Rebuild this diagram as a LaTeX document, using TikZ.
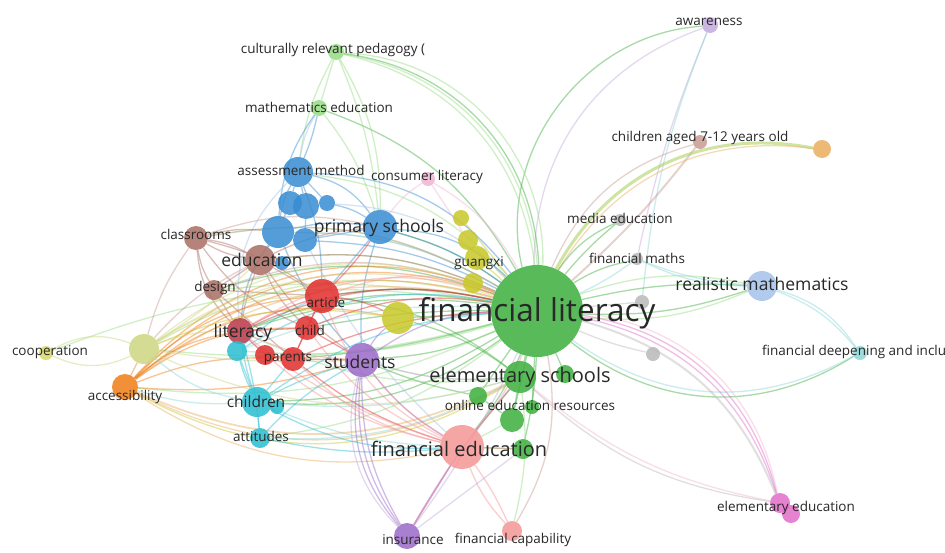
\documentclass[tikz,border=0pt]{standalone}
\usepackage{fontspec}
\setmainfont{Open Sans}
\usetikzlibrary{positioning,backgrounds}
\definecolor{cGreen}{RGB}{60,175,60}
\definecolor{cLGrn}{RGB}{150,220,130}
\definecolor{cBlue}{RGB}{55,140,210}
\definecolor{cLBlue}{RGB}{165,195,235}
\definecolor{cRed}{RGB}{225,45,45}
\definecolor{cDRed}{RGB}{185,55,70}
\definecolor{cSalm}{RGB}{245,150,150}
\definecolor{cPurp}{RGB}{155,105,200}
\definecolor{cLav}{RGB}{195,170,220}
\definecolor{cBrown}{RGB}{170,110,100}
\definecolor{cLBrn}{RGB}{200,155,145}
\definecolor{cPink}{RGB}{225,110,200}
\definecolor{cLPink}{RGB}{240,180,210}
\definecolor{cGrey}{RGB}{185,185,185}
\definecolor{cOlive}{RGB}{200,200,40}
\definecolor{cLOlive}{RGB}{205,215,130}
\definecolor{cYGrn}{RGB}{175,210,100}
\definecolor{cCyan}{RGB}{40,190,210}
\definecolor{cLCyan}{RGB}{140,215,215}
\definecolor{cOrng}{RGB}{240,125,20}
\definecolor{cLOrng}{RGB}{235,175,95}
\definecolor{lblgrey}{RGB}{40,40,40}
\tikzset{bub/.style={circle, inner sep=0pt, minimum size=2*#1, fill opacity=.85},
    term/.style={text=lblgrey, inner sep=0pt, font=\fontsize{13.5}{15}\selectfont},
    termC/.style={term, font=\fontsize{15.5}{17}\selectfont},
    termM/.style={term, font=\fontsize{17.5}{19}\selectfont},
    termL/.style={term, font=\fontsize{20}{22}\selectfont},
    termXL/.style={term, font=\fontsize{31.5}{33}\selectfont},
    link/.style={line width=1.3pt, draw opacity=.45}}

\begin{document}
\begin{tikzpicture}[x=1pt, y=-1pt]
    \useasboundingbox (0,0) rectangle (945,552);

    % green cluster
    \node[bub=46, fill=cGreen] (fl) at (537,311) {};
    \node[bub=16, fill=cGreen] (es1) at (520,377) {};
    \node[bub=9, fill=cGreen] (es2) at (565,374) {};
    \node[bub=9, fill=cGreen] (g3) at (478,396) {};
    \node[bub=12, fill=cGreen] (g4) at (512,420) {};
    \node[bub=7, fill=cGreen] (g5) at (532,407) {};
    \node[bub=10, fill=cGreen] (g6) at (523,449) {};
    \node[bub=8, fill=cLGrn] (cult) at (336,52) {};
    \node[bub=8, fill=cLGrn] (mathed) at (319,108) {};

    % right side
    \node[bub=8, fill=cLav] (aware) at (710,25) {};
    \node[bub=7, fill=cLBrn] (aged) at (700,142) {};
    \node[bub=9, fill=cLOrng] (orng) at (822,149) {};
    \node[bub=6, fill=cGrey] (media) at (620,220) {};
    \node[bub=6, fill=cGrey] (fmath) at (637,259) {};
    \node[bub=15, fill=cLBlue] (realm) at (762,286) {};
    \node[bub=7, fill=cGrey] (grey1) at (642,302) {};
    \node[bub=7, fill=cGrey] (grey2) at (653,354) {};
    \node[bub=7, fill=cLCyan] (fdeep) at (860,353) {};
    \node[bub=10, fill=cPink] (eled) at (780,503) {};
    \node[bub=9, fill=cPink] (eled2) at (791,514) {};

    % blue cluster
    \node[bub=15, fill=cBlue] (am1) at (298,172) {};
    \node[bub=12, fill=cBlue] (b2) at (290,203) {};
    \node[bub=13, fill=cBlue] (b3) at (306,206) {};
    \node[bub=8, fill=cBlue] (b4) at (327,203) {};
    \node[bub=16, fill=cBlue] (b5) at (278,232) {};
    \node[bub=12, fill=cBlue] (b6) at (305,240) {};
    \node[bub=7, fill=cBlue] (b7) at (282,263) {};
    \node[bub=17, fill=cBlue] (ps) at (380,227) {};
    \node[bub=7, fill=cLPink] (cons) at (428,179) {};

    % yellow cluster
    \node[bub=16, fill=cOlive] (ybig) at (398,318) {};
    \node[bub=8, fill=cOlive] (y1) at (461,218) {};
    \node[bub=10, fill=cOlive] (y2) at (468,240) {};
    \node[bub=12, fill=cOlive] (y3) at (477,258) {};
    \node[bub=10, fill=cOlive] (y4) at (473,283) {};

    % left side
    \node[bub=7, fill=cOlive!70!white] (coop) at (46,353) {};
    \node[bub=15, fill=cLOlive] (lyel) at (144,349) {};
    \node[bub=13, fill=cOrng] (acc) at (125,387) {};
    \node[bub=12, fill=cBrown] (classr) at (196,238) {};
    \node[bub=15, fill=cBrown] (edu) at (260,260) {};
    \node[bub=10, fill=cBrown] (design) at (214,290) {};
    \node[bub=13, fill=cDRed] (lit) at (240,331) {};
    \node[bub=10, fill=cCyan] (cyan1) at (237,351) {};
    \node[bub=17, fill=cRed] (article) at (322,296) {};
    \node[bub=12, fill=cRed] (child) at (307,328) {};
    \node[bub=12, fill=cRed] (parents) at (293,359) {};
    \node[bub=10, fill=cRed] (p2) at (265,355) {};
    \node[bub=17, fill=cPurp] (students) at (362,360) {};
    \node[bub=15, fill=cCyan] (children) at (257,402) {};
    \node[bub=7, fill=cCyan] (c2) at (277,407) {};
    \node[bub=10, fill=cCyan] (attitudes) at (260,438) {};

    % bottom
    \node[bub=22, fill=cSalm] (fe) at (462,447) {};
    \node[bub=13, fill=cPurp] (ins) at (407,536) {};
    \node[bub=10, fill=cSalm] (fcap) at (512,531) {};

    % labels
    \node[termXL] (fl-t) at (537,313) {financial literacy};
    \node[termL] (es-t) at (520,377) {elementary schools};
    \node[term] (oer-t) at (530,405) {online education resources};
    \node[termL] (fe-t) at (459,449) {financial education};
    \node[term] (ins-t) at (413,540) {insurance};
    \node[term] (fcap-t) at (513,540) {financial capability};
    \node[termM] (students-t) at (360,362) {students};
    \node[termC] (children-t) at (256,402) {children};
    \node[term] (attitudes-t) at (261,436) {attitudes};
    \node[term] (parents-t) at (288,359) {parents};
    \node[term] (child-t) at (310,330) {child};
    \node[term] (article-t) at (326,302) {article};
    \node[termM] (lit-t) at (243,333) {literacy};
    \node[term] (design-t) at (215,288) {design};
    \node[termM] (edu-t) at (262,260) {education};
    \node[term] (classr-t) at (196,234) {classrooms};
    \node[term] (acc-t) at (125,397) {accessibility};
    \node[term] (coop-t) at (50,352) {cooperation};
    \node[term] (am-t) at (301,170) {assessment method};
    \node[termM] (ps-t) at (379,228) {primary schools};
    \node[term] (cons-t) at (427,177) {consumer literacy};
    \node[term] (mathed-t) at (319,107) {mathematics education};
    \node[term] (cult-t) at (333,50) {culturally relevant pedagogy (};
    \node[term] (gx-t) at (479,263) {guangxi};
    \node[term] (aware-t) at (709,22) {awareness};
    \node[term] (aged-t) at (700,138) {children aged 7-12 years old};
    \node[term] (media-t) at (620,218) {media education};
    \node[term] (fmath-t) at (637,258) {financial maths};
    \node[termM] (realm-t) at (762,284) {realistic mathematics};
    \node[term, anchor=west] (fdeep-t) at (762,352) {financial deepening and inclu};
    \node[term] (eled-t) at (786,508) {elementary education};

    \begin{scope}[on background layer]
    \fill[white] (0,0) rectangle (945,552);
    \path[link]
    % top right
    (fl) edge[cGreen, bend left=50] (aware)
    (fl) edge[cLav, bend left=35] (aware)
    (aware) edge[cLav, bend right=5] (fmath)
    (aware) edge[cLCyan, bend right=8] (grey1)
    (fl) edge[cGreen, bend right=40] (cult)
    (fl) edge[cLGrn, bend right=35] (cult)
    (fl) edge[cLGrn, bend right=45] (cult)
    (fl) edge[cLGrn, bend right=38] (cult)
    (fl) edge[cLBrn, bend left=25] (aged)
    (aged) edge[cLBrn, line width=2pt, bend left=5] (fl)
    (fl) edge[cYGrn, line width=3pt, draw opacity=.6, bend left=36] (orng)
    (fl) edge[cLOrng, bend left=33] (orng)
    (fl) edge[cGreen, bend left=15] (media)
    (fl) edge[cGreen, bend left=5] (media)
    (fl) edge[cGreen, bend left=10] (fmath)
    (fl) edge[cLCyan, bend right=5] (fmath)
    (fl) edge[cGreen, bend left=8] (realm)
    (fl) edge[cLGrn, bend left=15] (realm)
    (fl) edge[cGreen, bend right=10] (realm)
    (fl) edge[cLGrn, bend right=14] (realm)
    (fmath) edge[cLCyan, bend right=8] (realm)
    (fmath) edge[cLCyan, bend right=12] (realm)
    (fl) edge[cGreen, bend right=35] (fdeep)
    (fl) edge[cLCyan, bend right=32] (fdeep)
    (realm) edge[cLCyan, bend left=15] (fdeep)
    (realm) edge[cLCyan, bend left=20] (fdeep)
    (fl) edge[cGrey] (grey1)
    (fl) edge[cGrey, bend right=5] (grey2)
    (fl) edge[cPink, bend left=33] (eled)
    (fl) edge[cPink, bend left=30] (eled)
    (fl) edge[cLPink, bend left=36] (eled)
    (fl) edge[cGrey, line width=2pt, bend left=26] (eled)
    (es1) edge[cGrey, bend right=17] (eled)
    (es1) edge[cLPink, bend right=14] (eled)
    % green to the left
    (fl) edge[cGreen] (ybig)
    (fl) edge[cGreen, bend right=15] (lit)
    (fl) edge[cGreen, bend right=10] (article)
    (fl) edge[cGreen, bend left=10] (students)
    (fl) edge[cGreen, bend left=15] (children)
    (fl) edge[cLGrn, bend right=15] (edu)
    (fl) edge[cLGrn, bend right=20] (classr)
    (fl) edge[cLGrn, bend left=10] (lyel)
    (fl) edge[cLGrn, bend left=15] (acc)
    (fl) edge[cGreen, bend right=18] (design)
    (fl) edge[cLGrn, bend right=15] (b5)
    (fl) edge[cGreen, bend right=10] (ps)
    (fl) edge[cLGrn, bend right=20] (am1)
    (fl) edge[cOlive] (y1)
    (fl) edge[cOlive] (y2)
    (fl) edge[cOlive] (y3)
    (fl) edge[cOlive] (y4)
    (fl) edge[cLGrn, bend left=10] (cyan1)
    (fl) edge[cGreen, bend left=5] (parents)
    (fl) edge[cGreen, bend right=5] (child)
    (fl) edge[cLGrn, bend left=15] (attitudes)
    (fl) edge[cLGrn, bend right=15] (coop)
    (fl) edge[cGreen, bend left=8] (fe)
    (fl) edge[cGreen, bend right=20] (mathed)
    (fl) edge[cGreen, bend right=12] (lit)
    (fl) edge[cLGrn, bend right=8] (design)
    (fl) edge[cGreen, bend left=20] (children)
    % green cluster
    (es1) edge[cGreen] (fl)
    (es2) edge[cGreen] (fl)
    (g3) edge[cGreen] (fl)
    (g4) edge[cGreen] (fl)
    (g5) edge[cGreen] (fl)
    (g6) edge[cGreen, bend right=5] (fl)
    (es1) edge[cGreen] (g4)
    (g3) edge[cGreen] (g4)
    (es1) edge[cGreen] (fe)
    (g6) edge[cGreen] (fe)
    (g4) edge[cLGrn] (fe)
    (es1) edge[cGreen, bend right=10] (ybig)
    (g3) edge[cGreen, bend left=5] (students)
    (es1) edge[cLGrn, bend left=10] (students)
    (es1) edge[cLGrn, bend left=15] (lit)
    (es1) edge[cGreen, bend right=15] (article)
    (es1) edge[cLCyan, bend left=10] (children)
    % upper left
    (cult) edge[cLGrn] (mathed)
    (cult) edge[cLGrn, bend right=10] (am1)
    (cult) edge[cLGrn, bend left=15] (ps)
    (cult) edge[cLGrn, bend left=8] (ps)
    (mathed) edge[cLBlue, bend right=10] (am1)
    (mathed) edge[cBlue, bend right=15] (b5)
    (mathed) edge[cBlue, bend left=5] (am1)
    (mathed) edge[cLGrn, bend left=10] (ps)
    % blue cluster
    (am1) edge[cBlue] (b2)
    (am1) edge[cBlue] (b3)
    (am1) edge[cBlue] (b4)
    (am1) edge[cBlue, bend left=20] (ps)
    (am1) edge[cBlue, bend right=10] (b5)
    (b2) edge[cBlue] (b5)
    (b3) edge[cBlue] (b6)
    (b5) edge[cBlue] (b6)
    (b4) edge[cBlue, bend left=10] (ps)
    (b5) edge[cBlue, bend left=10] (ps)
    (b6) edge[cBlue] (ps)
    (b5) edge[cBlue] (edu)
    (b7) edge[cBlue] (edu)
    (b5) edge[cBlue, bend right=15] (lit)
    (am1) edge[cLBlue, bend right=25] (lit)
    (am1) edge[cBlue, bend left=25] (fl)
    (b4) edge[cLBlue, bend left=20] (fl)
    (ps) edge[cBlue, bend left=10] (fl)
    (ps) edge[cBlue, bend left=20] (fl)
    (b5) edge[cLBlue, bend left=15] (fl)
    (b6) edge[cBlue, bend left=12] (fl)
    (am1) edge[cBlue, bend left=10] (article)
    (ps) edge[cBlue, bend right=10] (students)
    (ps) edge[cBlue] (article)
    (b5) edge[cBlue, bend right=10] (students)
    (b6) edge[cLBlue, bend right=10] (fe)
    (cons) edge[cLPink, bend right=10] (ps)
    (cons) edge[cLPink, bend left=15] (fl)
    (cons) edge[cLPink] (y2)
    % brown
    (classr) edge[cBrown, bend left=10] (edu)
    (classr) edge[cBrown, bend right=10] (edu)
    (classr) edge[cBrown, bend right=10] (design)
    (classr) edge[cBrown, bend right=20] (lit)
    (classr) edge[cBrown, bend left=10] (article)
    (classr) edge[cBrown, bend right=15] (child)
    (classr) edge[cLBrn, bend left=20] (fl)
    (classr) edge[cBrown, bend left=10] (b5)
    (classr) edge[cLBrn, bend left=15] (ps)
    (classr) edge[cLBrn, bend right=10] (lyel)
    (edu) edge[cBrown] (design)
    (edu) edge[cBrown, bend right=5] (lit)
    (edu) edge[cBrown] (article)
    (edu) edge[cBrown, bend right=10] (child)
    (edu) edge[cBrown, bend left=15] (fl)
    (edu) edge[cBrown, bend left=10] (ps)
    (edu) edge[cBrown, bend right=10] (students)
    (edu) edge[cLBrn, bend right=10] (lyel)
    (design) edge[cBrown] (lit)
    (design) edge[cBrown] (article)
    (design) edge[cLBrn, bend left=20] (fl)
    (design) edge[cBrown] (parents)
    % orange and yellow
    (acc) edge[cOrng, bend left=32] (fl)
    (acc) edge[cOrng, bend left=28] (fl)
    (acc) edge[cOrng, bend left=35] (fl)
    (acc) edge[cLOrng, bend left=25] (fl)
    (acc) edge[cOrng, bend left=25] (ybig)
    (acc) edge[cOrng, bend left=15] (lit)
    (acc) edge[cOrng, bend left=20] (article)
    (acc) edge[cOrng, bend left=18] (child)
    (acc) edge[cOrng, bend left=12] (parents)
    (acc) edge[cOrng] (lyel)
    (acc) edge[cLOrng, line width=1.8pt, bend right=25] (es1)
    (acc) edge[cOlive, bend right=30] (es1)
    (acc) edge[cLOrng, bend right=28] (es1)
    (acc) edge[cLOrng, bend right=22] (fe)
    (acc) edge[cOrng, bend right=10] (students)
    (acc) edge[cLCyan, bend right=10] (children)
    (lyel) edge[cLOlive, bend left=25] (coop)
    (lyel) edge[cLOlive, bend right=25] (coop)
    (lyel) edge[cLOlive, bend left=25] (fl)
    (lyel) edge[cLOlive, bend left=30] (fl)
    (lyel) edge[cYGrn, bend left=22] (fl)
    (lyel) edge[cOlive, bend left=15] (ybig)
    (lyel) edge[cLOlive, bend left=15] (article)
    (lyel) edge[cLOlive, bend left=10] (lit)
    (lyel) edge[cLOlive, bend right=5] (edu)
    (lyel) edge[cLCyan, bend right=15] (children)
    (lyel) edge[cLOlive, bend right=20] (es1)
    (lyel) edge[cLOlive, bend right=5] (students)
    % cyan
    (children) edge[cCyan] (attitudes)
    (children) edge[cCyan] (cyan1)
    (children) edge[cCyan, bend left=5] (lit)
    (cyan1) edge[cCyan] (lit)
    (children) edge[cCyan, bend right=15] (fe)
    (children) edge[cLCyan, bend right=10] (fe)
    (attitudes) edge[cCyan, bend right=8] (fe)
    (attitudes) edge[cLCyan, bend right=15] (es1)
    (children) edge[cCyan, bend left=15] (fl)
    (cyan1) edge[cCyan, bend left=20] (fl)
    (cyan1) edge[cLCyan, bend left=12] (fl)
    (children) edge[cCyan, bend left=5] (students)
    (attitudes) edge[cCyan, bend left=8] (students)
    (children) edge[cCyan] (parents)
    (cyan1) edge[cCyan, bend right=5] (children)
    (attitudes) edge[cCyan, bend right=5] (lit)
    (cyan1) edge[cCyan, bend left=10] (article)
    (c2) edge[cCyan] (children)
    % red
    (article) edge[cRed] (child)
    (article) edge[cRed] (parents)
    (article) edge[cRed, bend right=5] (lit)
    (child) edge[cRed] (parents)
    (child) edge[cRed] (lit)
    (p2) edge[cRed] (lit)
    (p2) edge[cRed] (parents)
    (article) edge[cRed, bend left=10] (fl)
    (article) edge[cSalm, bend left=20] (fl)
    (child) edge[cRed, bend left=15] (fl)
    (parents) edge[cRed, bend left=10] (fl)
    (parents) edge[cRed, bend right=10] (fe)
    (article) edge[cSalm, bend right=20] (fe)
    (child) edge[cSalm, bend right=15] (fe)
    (parents) edge[cRed] (students)
    (lit) edge[cDRed, bend left=18] (fl)
    (lit) edge[cSalm, bend left=25] (fl)
    (lit) edge[cSalm, bend right=10] (students)
    (lit) edge[cSalm, bend right=15] (fe)
    (article) edge[cRed, bend right=5] (ps)
    (article) edge[cRed, bend left=10] (ybig)
    (child) edge[cRed] (students)
    % purple
    (students) edge[cPurp, bend right=15] (ins)
    (students) edge[cPurp, bend right=20] (ins)
    (students) edge[cPurp, bend right=25] (ins)
    (students) edge[cLav, bend right=30] (ins)
    (ins) edge[cLav, bend right=5] (fl)
    (ins) edge[cPurp, bend left=5] (es1)
    (ins) edge[cPurp] (fe)
    (ins) edge[cLav] (g6)
    (students) edge[cPurp, bend left=15] (fl)
    (students) edge[cPurp, bend right=10] (fe)
    (students) edge[cLav, bend right=10] (es1)
    (students) edge[cPurp, bend left=10] (ybig)
    % salmon
    (fe) edge[cSalm, bend right=10] (fcap)
    (fe) edge[cSalm, bend left=5] (fcap)
    (fe) edge[cSalm] (ins)
    (fe) edge[cSalm, bend right=10] (fl)
    (fe) edge[cSalm] (es1)
    (fe) edge[cSalm, bend left=10] (students)
    (fe) edge[cSalm, bend left=15] (parents)
    (fe) edge[cSalm, bend left=10] (lit)
    (fe) edge[cSalm] (g6)
    (fcap) edge[cLBrn, bend right=20] (fl)
    (fcap) edge[cLGrn, bend right=10] (es1)
    ;
    \end{scope}
\end{tikzpicture}
\end{document}
